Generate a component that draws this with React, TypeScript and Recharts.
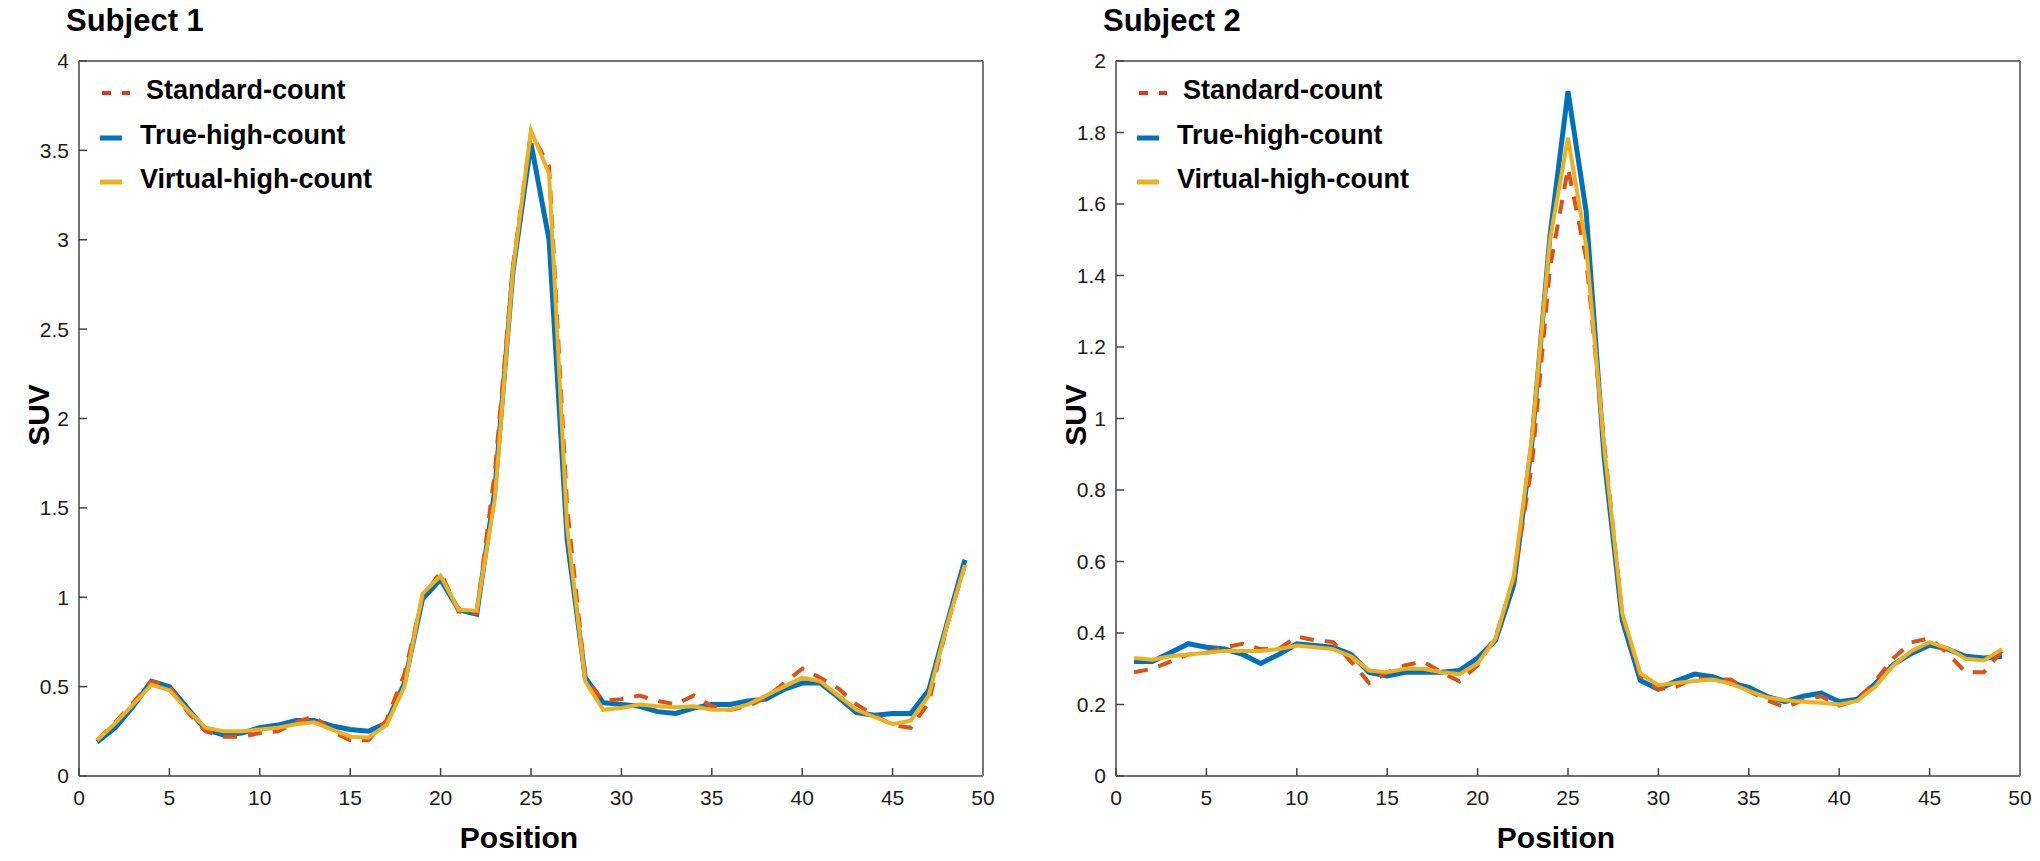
import React from "react";
import { Legend, Line, LineChart, XAxis, YAxis } from "recharts";

const positions = [
  1, 2, 3, 4, 5, 6, 7, 8, 9, 10, 11, 12, 13, 14, 15, 16, 17, 18, 19, 20, 21, 22, 23, 24, 25,
  26, 27, 28, 29, 30, 31, 32, 33, 34, 35, 36, 37, 38, 39, 40, 41, 42, 43, 44, 45, 46, 47, 48, 49,
];

// Subject 1
const standard1 = [
  0.2, 0.3, 0.41, 0.53, 0.5, 0.36, 0.25, 0.22, 0.22, 0.24, 0.25, 0.3, 0.335, 0.25, 0.2, 0.2,
  0.31, 0.57, 1.0, 1.14, 0.92, 0.91, 1.7, 2.85, 3.6, 3.41, 1.5, 0.55, 0.42, 0.43, 0.45, 0.42,
  0.4, 0.45, 0.39, 0.37, 0.39, 0.44, 0.52, 0.6, 0.55, 0.49, 0.4, 0.34, 0.285, 0.27, 0.41, 0.84,
  1.18,
];
const true1 = [
  0.19, 0.27, 0.39, 0.53, 0.5, 0.38, 0.26, 0.23, 0.24, 0.27, 0.285, 0.31, 0.31, 0.28, 0.26,
  0.25, 0.295, 0.52, 0.99, 1.1, 0.93, 0.905, 1.6, 2.82, 3.54, 3.0, 1.32, 0.55, 0.41, 0.4, 0.39,
  0.36, 0.35, 0.38, 0.4, 0.4, 0.42, 0.43, 0.485, 0.52, 0.52, 0.44, 0.355, 0.34, 0.35, 0.35,
  0.48, 0.85, 1.21,
];
const virtual1 = [
  0.2, 0.295, 0.4, 0.51, 0.48, 0.37, 0.27, 0.25, 0.25, 0.26, 0.27, 0.29, 0.3, 0.26, 0.22, 0.215,
  0.285, 0.5, 1.02, 1.12, 0.93, 0.925, 1.55, 2.83, 3.61, 3.37, 1.39, 0.53, 0.37, 0.38, 0.4,
  0.39, 0.385, 0.39, 0.37, 0.37, 0.4, 0.45, 0.5, 0.55, 0.53, 0.45, 0.37, 0.33, 0.29, 0.31,
  0.45, 0.84, 1.18,
];

// Subject 2
const standard2 = [
  0.29, 0.3, 0.32, 0.34, 0.345, 0.36, 0.37, 0.355, 0.355, 0.39, 0.38, 0.375, 0.32, 0.26, 0.29,
  0.31, 0.32, 0.29, 0.265, 0.31, 0.39, 0.55, 0.87, 1.42, 1.7, 1.45, 0.93, 0.45, 0.28, 0.243,
  0.25, 0.274, 0.27, 0.27, 0.238, 0.212, 0.192, 0.212, 0.223, 0.197, 0.212, 0.266, 0.33, 0.374,
  0.385, 0.343, 0.29, 0.29, 0.35,
];
const true2 = [
  0.32, 0.32, 0.345, 0.37, 0.36, 0.355, 0.34, 0.315, 0.34, 0.37, 0.365, 0.36, 0.34, 0.29, 0.28,
  0.29, 0.29, 0.29, 0.295, 0.33, 0.38, 0.535, 0.93, 1.51, 1.915, 1.58, 0.89, 0.436, 0.267,
  0.243, 0.266, 0.285, 0.278, 0.26, 0.248, 0.223, 0.208, 0.223, 0.232, 0.208, 0.215, 0.258,
  0.312, 0.343, 0.366, 0.355, 0.335, 0.33, 0.335,
];
const virtual2 = [
  0.33, 0.325, 0.335, 0.34, 0.345, 0.35, 0.35, 0.35, 0.355, 0.365, 0.36, 0.355, 0.335, 0.295,
  0.29, 0.3, 0.3, 0.29, 0.285, 0.315, 0.385, 0.56, 0.945, 1.5, 1.785, 1.485, 0.92, 0.456, 0.287,
  0.254, 0.26, 0.266, 0.27, 0.258, 0.238, 0.22, 0.212, 0.208, 0.205, 0.2, 0.21, 0.25, 0.31,
  0.35, 0.374, 0.358, 0.328, 0.323, 0.355,
];

const xTicks = [0, 5, 10, 15, 20, 25, 30, 35, 40, 45, 50];
const yTicks1 = [0, 0.5, 1, 1.5, 2, 2.5, 3, 3.5, 4];
const yTicks2 = [0, 0.2, 0.4, 0.6, 0.8, 1, 1.2, 1.4, 1.6, 1.8, 2];

const RED = "#D95319";
const BLUE = "#0072BD";
const ORANGE = "#EDB120";
const FONT = "'Liberation Sans', Arial, Helvetica, sans-serif";

const toRows = (s: number[], t: number[], v: number[]) =>
  positions.map((p, i) => ({ pos: p, standard: s[i], trueHigh: t[i], virtualHigh: v[i] }));

const LegendBox = () => {
  const items = [
    { label: "Standard-count", color: RED, dashed: true, tx: 46 },
    { label: "True-high-count", color: BLUE, dashed: false, tx: 40 },
    { label: "Virtual-high-count", color: ORANGE, dashed: false, tx: 40 },
  ];
  return (
    <div style={{ fontFamily: FONT }}>
      {items.map((it) => (
        <div key={it.label} style={{ position: "relative", height: 44.5 }}>
          <svg width={32} height={10} style={{ position: "absolute", left: 0, top: 17 }}>
            {it.dashed ? (
              <line x1={2} y1={5} x2={30} y2={5} stroke="#E8341C" strokeWidth={4} strokeDasharray="9 11" />
            ) : (
              <line x1={0} y1={5} x2={22} y2={5} stroke={it.color} strokeWidth={5} />
            )}
          </svg>
          <span
            style={{
              position: "absolute",
              left: it.tx,
              top: 4,
              fontSize: 27,
              fontWeight: 700,
              color: "#000",
              whiteSpace: "nowrap",
            }}
          >
            {it.label}
          </span>
        </div>
      ))}
    </div>
  );
};

type PanelProps = {
  left: number;
  title: string;
  rows: ReturnType<typeof toRows>;
  yMax: number;
  yTicks: number[];
  plotLeft: number;
  plotRight: number;
};

const Panel = ({ left, title, rows, yMax, yTicks, plotLeft, plotRight }: PanelProps) => {
  const tickStyle = { fontSize: 21, fill: "#1a1a1a", fontFamily: FONT };
  const axisStroke = { stroke: "#444", strokeWidth: 1.5 };
  // axes are 1px thick boxes, so the margins are shrunk by one
  return (
    <div style={{ position: "absolute", left, top: 0, width: 1000, height: 861 }}>
      <LineChart
        width={1000}
        height={861}
        data={rows}
        margin={{ top: 60, bottom: 84, left: plotLeft - 1, right: 1000 - plotRight - 1 }}
      >
        <XAxis
          dataKey="pos"
          type="number"
          domain={[0, 50]}
          ticks={xTicks}
          height={1}
          tickSize={-8}
          tickMargin={22}
          tick={tickStyle}
          axisLine={axisStroke}
          tickLine={axisStroke}
        />
        <XAxis
          xAxisId="top"
          orientation="top"
          dataKey="pos"
          type="number"
          domain={[0, 50]}
          ticks={xTicks}
          height={1}
          tickSize={-8}
          tick={false}
          axisLine={axisStroke}
          tickLine={{ stroke: "#888" }}
        />
        <YAxis
          type="number"
          domain={[0, yMax]}
          ticks={yTicks}
          width={1}
          tickSize={-8}
          tickMargin={18}
          tick={tickStyle}
          axisLine={axisStroke}
          tickLine={axisStroke}
        />
        <YAxis
          yAxisId="right"
          orientation="right"
          type="number"
          domain={[0, yMax]}
          ticks={yTicks}
          width={1}
          tickSize={-8}
          tick={false}
          axisLine={{ stroke: "#777", strokeWidth: 2 }}
          tickLine={{ stroke: "#999" }}
        />
        <Line
          dataKey="trueHigh"
          stroke={BLUE}
          strokeWidth={5}
          dot={false}
          isAnimationActive={false}
        />
        <Line
          dataKey="standard"
          stroke={RED}
          strokeWidth={4}
          strokeDasharray="14 11"
          dot={false}
          isAnimationActive={false}
        />
        <Line
          dataKey="virtualHigh"
          stroke={ORANGE}
          strokeWidth={4}
          dot={false}
          isAnimationActive={false}
        />
        <Legend
          layout="vertical"
          align="center"
          verticalAlign="middle"
          content={() => <LegendBox />}
          wrapperStyle={{ left: plotLeft + 21, top: 71, width: 400, height: 140 }}
        />
      </LineChart>
      <div
        style={{
          position: "absolute",
          left: plotLeft - 13,
          top: 3,
          fontFamily: FONT,
          fontSize: 31,
          fontWeight: 700,
          whiteSpace: "nowrap",
        }}
      >
        {title}
      </div>
      <div
        style={{
          position: "absolute",
          left: plotLeft - 40 - 60,
          top: 419 - 21,
          width: 120,
          textAlign: "center",
          transform: "rotate(-90deg)",
          fontFamily: FONT,
          fontSize: 30,
          fontWeight: 700,
        }}
      >
        SUV
      </div>
      <div
        style={{
          position: "absolute",
          left: (plotLeft + plotRight) / 2 - 12 - 100,
          top: 821,
          width: 200,
          textAlign: "center",
          fontFamily: FONT,
          fontSize: 30,
          fontWeight: 700,
        }}
      >
        Position
      </div>
    </div>
  );
};

export default function App() {
  return (
    <div
      style={{
        position: "absolute",
        left: 0,
        top: 0,
        width: 2040,
        height: 861,
        background: "#fff",
        overflow: "hidden",
      }}
    >
      <Panel
        left={0}
        title="Subject 1"
        rows={toRows(standard1, true1, virtual1)}
        yMax={4}
        yTicks={yTicks1}
        plotLeft={79}
        plotRight={983}
      />
      <Panel
        left={1040}
        title="Subject 2"
        rows={toRows(standard2, true2, virtual2)}
        yMax={2}
        yTicks={yTicks2}
        plotLeft={76}
        plotRight={980}
      />
    </div>
  );
}
